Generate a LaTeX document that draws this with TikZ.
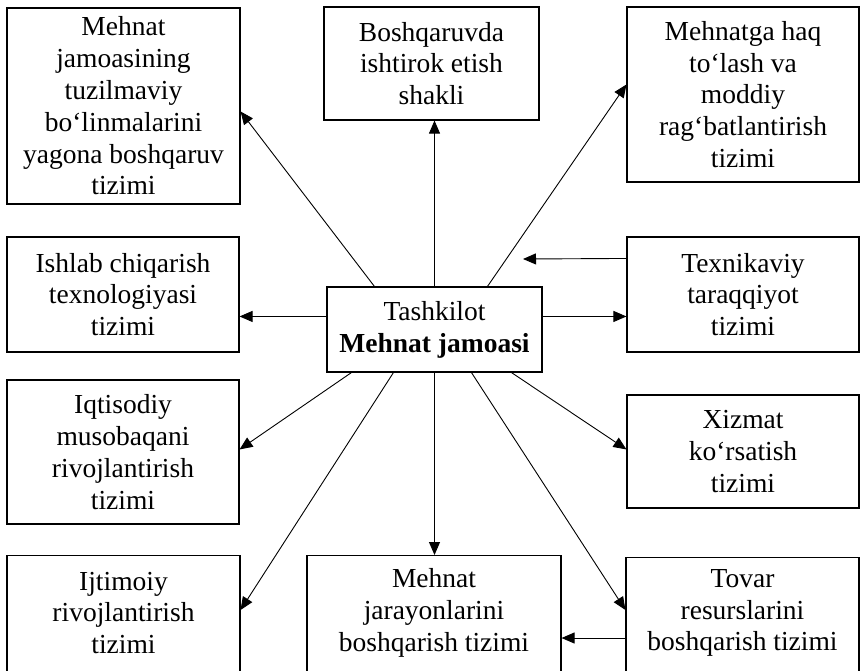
\documentclass[tikz,border=0pt]{standalone}
\usepackage{fontspec}
\setmainfont{Liberation Serif}
\usetikzlibrary{arrows.meta,calc}
\newcommand\boxfont{\fontsize{27.5}{31.8}\selectfont}
\tikzset{
  box/.style={draw, line width=1.1pt, inner sep=0pt, align=center, font=\boxfont},
  lbl/.style={inner sep=0pt, align=center, font=\boxfont},
  arr/.style={line width=0.9pt, -{Triangle[length=13pt,width=11pt]}},
}
\begin{document}
\begin{tikzpicture}[x=1pt,y=-1pt]
\clip (0,0) rectangle (861,670);
% top row
\node[box, minimum width=233pt, minimum height=196pt] (b1) at (123.5,106)
  {Mehnat\\jamoasining\\tuzilmaviy\\bo‘linmalarini\\yagona boshqaruv\\tizimi};
\node[box, minimum width=215pt, minimum height=113pt] (b2) at (431.5,63.5)
  {Boshqaruvda\\ishtirok etish\\shakli};
\node[box, minimum width=232pt, minimum height=175pt] (b3) at (743,94.5)
  {Mehnatga haq\\to‘lash va\\moddiy\\rag‘batlantirish\\tizimi};
% middle rows
\node[box, minimum width=232pt, minimum height=115pt] (b4) at (123,294.5)
  {Ishlab chiqarish\\texnologiyasi\\tizimi};
\node[box, minimum width=215pt, minimum height=85pt] (c) at (434.5,329.5)
  {Tashkilot\\\textbf{Mehnat jamoasi}};
\node[box, minimum width=232pt, minimum height=115pt] (b5) at (743,294.5)
  {Texnikaviy\\taraqqiyot\\tizimi};
\node[box, minimum width=232pt, minimum height=144pt] (b6) at (123,452)
  {Iqtisodiy\\musobaqani\\rivojlantirish\\tizimi};
\node[box, minimum width=232pt, minimum height=113pt] (b7) at (743,451.5)
  {Xizmat\\ko‘rsatish\\tizimi};
% bottom row (boxes run past the lower edge)
\node[box, anchor=north, minimum width=233pt, minimum height=140pt] (b8) at (123.5,555) {};
\node[box, anchor=north, minimum width=254pt, minimum height=140pt] (b9) at (434,555) {};
\node[box, anchor=north, minimum width=233pt, minimum height=140pt] (b10) at (742.5,557) {};
\node[lbl] (b8t) at (b8.north |- 0,613) {Ijtimoiy\\rivojlantirish\\tizimi};
\node[lbl] (b9t) at (b9.north |- 0,613) {Mehnat\\jarayonlarini\\boshqarish tizimi};
\node[lbl] (b10t) at (b10.north |- 0,613) {Tovar\\resurslarini\\boshqarish tizimi};
% connectors
\draw[arr] ($(c.north west)+(48,0)$) -- ($(b1.north east)+(0,104)$);
\draw[arr] (c.north) -- (c.north |- b2.south);
\draw[arr] ($(c.north west)+(161,0)$) -- ($(b3.north west)+(0,78)$);
\draw[arr] ($(c.north west)+(0,30)$) -- ($(b4.north east)+(0,80)$);
\draw[arr] ($(c.north east)+(0,30)$) -- ($(b5.north west)+(0,80)$);
\coordinate (tk) at (523,259);
\draw[arr] ($(b5.north west)+(0,22)$) -- (tk);
\draw[arr] ($(c.south west)+(25,0)$) -- ($(b6.north east)+(0,70)$);
\draw[arr] ($(c.south west)+(185,0)$) -- ($(b7.north west)+(0,55)$);
\draw[arr] ($(c.south west)+(67,0)$) -- ($(b8.north east)+(0,55)$);
\draw[arr] (c.south) -- (c.south |- b9.north);
\draw[arr] ($(c.south west)+(145,0)$) -- ($(b10.north west)+(0,53)$);
\draw[arr] ($(b10.north west)+(0,81)$) -- ($(b9.north east)+(0,83)$);
\end{tikzpicture}
\end{document}
